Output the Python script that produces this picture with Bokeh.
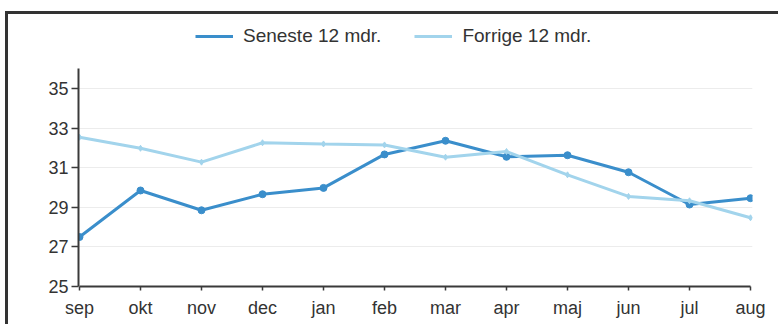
from bokeh.plotting import figure
from bokeh.models import Range1d, FixedTicker, Legend, LegendItem
from bokeh.embed import file_html
from bokeh.resources import INLINE

months = ["sep", "okt", "nov", "dec", "jan", "feb", "mar", "apr", "maj", "jun", "jul", "aug"]
seneste = [27.5, 29.85, 28.85, 29.66, 29.98, 31.67, 32.36, 31.55, 31.63, 30.77, 29.14, 29.46]
forrige = [32.54, 31.98, 31.28, 32.26, 32.2, 32.15, 31.53, 31.82, 30.64, 29.55, 29.33, 28.47]
y_ticks = [25, 27, 29, 31, 33, 35]

xs = list(range(len(months)))
pad = 1 / 61.0

p = figure(width=773, height=313, output_backend="svg", toolbar_location=None,
           x_range=Range1d(-pad, len(months) - 1 + 2 * pad), y_range=Range1d(25, 25 + 264 / 19.8),
           min_border_left=70, min_border_right=29, min_border_top=8, min_border_bottom=41)
p.margin = (11, 0, 0, 5)
p.styles = {"border-top": "3px solid #333333", "border-left": "3px solid #333333"}
p.outline_line_color = None
p.background_fill_color = "white"
p.border_fill_color = "white"

dark = "#3a8ecb"
light = "#a2d4ec"

r1 = p.line(xs, seneste, line_color=dark, line_width=3)
p.scatter(xs, seneste, size=7, color=dark)
r2 = p.line(xs, forrige, line_color=light, line_width=3)
p.scatter(xs, forrige, size=6, color=light, marker="diamond")

p.xaxis.ticker = FixedTicker(ticks=xs)
p.xaxis.major_label_overrides = {i: m for i, m in enumerate(months)}
p.xaxis.bounds = (0, len(months) - 1)
p.yaxis.ticker = FixedTicker(ticks=y_ticks)
p.yaxis.bounds = (25, 36)
p.xgrid.visible = False
p.ygrid.grid_line_color = "#ececec"
p.ygrid.grid_line_width = 1

for ax in (p.xaxis[0], p.yaxis[0]):
    ax.axis_line_color = "#3a3a3a"
    ax.axis_line_width = 2
    ax.major_tick_line_color = "#3a3a3a"
    ax.major_tick_line_width = 1.5
    ax.minor_tick_line_color = None
    ax.major_tick_in = 0
    ax.major_label_text_font = "Liberation Sans"
    ax.major_label_text_font_size = "18px"
    ax.major_label_text_color = "#333333"

p.yaxis.major_tick_out = 7
p.yaxis.major_label_standoff = 3
p.xaxis.major_tick_out = 4
p.xaxis.major_label_standoff = 7

legend = Legend(items=[LegendItem(label="Seneste 12 mdr.", renderers=[r1]),
                       LegendItem(label="Forrige 12 mdr.", renderers=[r2])],
                orientation="horizontal", location=(117, 239),
                label_text_font="Liberation Sans", label_text_font_size="19px",
                label_text_color="#333333", glyph_width=38, glyph_height=20,
                label_standoff=10, spacing=33, padding=0, margin=0,
                border_line_color=None, background_fill_alpha=0)
p.add_layout(legend, "center")

open("out.html", "w").write(file_html(p, INLINE))
